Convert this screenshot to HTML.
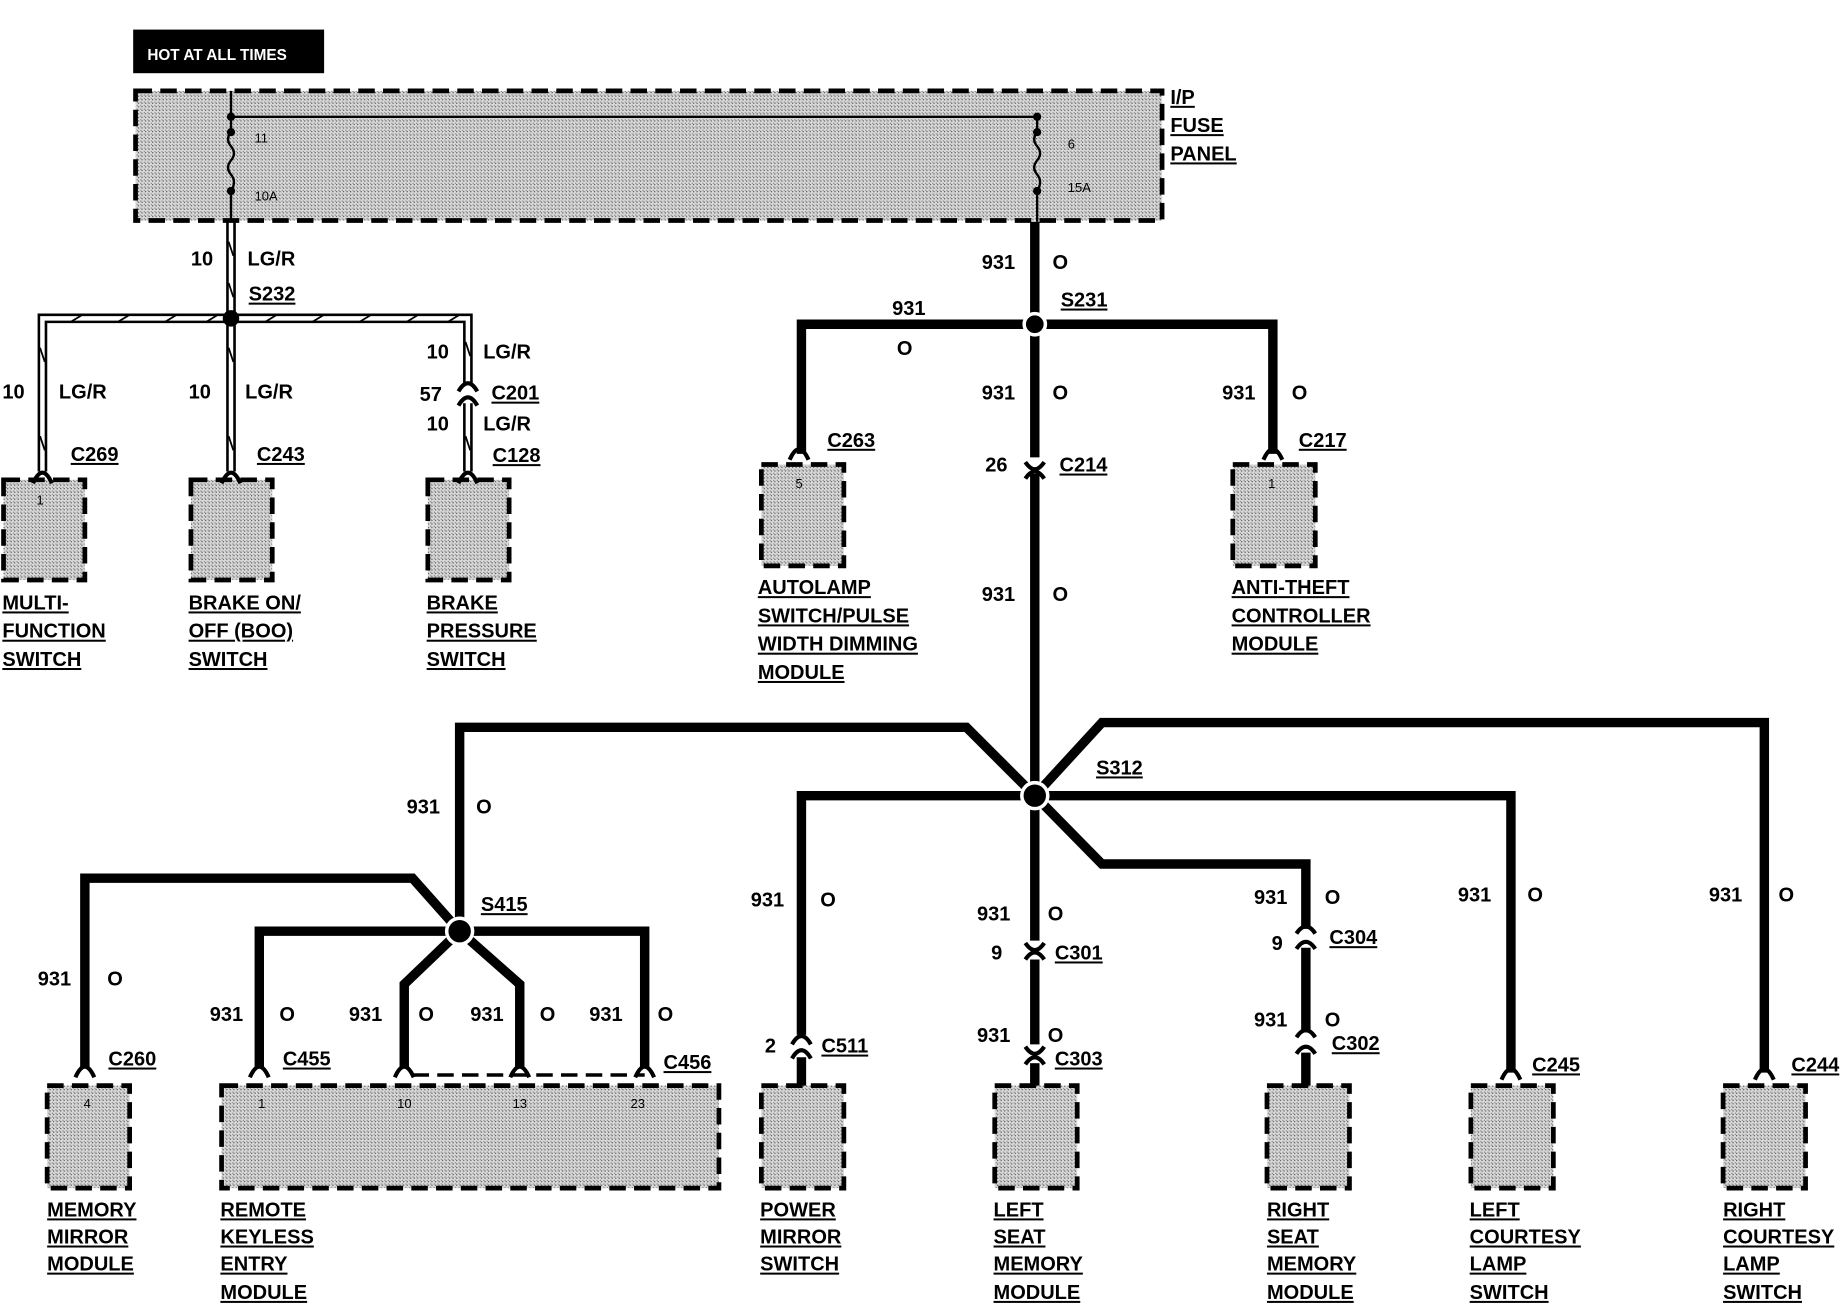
<!DOCTYPE html>
<html><head><meta charset="utf-8"><style>
html,body{margin:0;padding:0;background:#fff;}
svg{display:block;}
text{font-family:"Liberation Sans",Arial,sans-serif;font-weight:bold;font-size:17px;fill:#000;}
.s{font-size:11px;font-weight:normal;}
.u{text-decoration:underline;}
</style></head><body>
<svg width="1848" height="1312" viewBox="0 0 1568 1113" xmlns="http://www.w3.org/2000/svg">
<defs>
<pattern id="dots" width="3" height="3" patternUnits="userSpaceOnUse">
<rect width="3" height="3" fill="#d8d8d8"/><rect width="1" height="1" fill="#555"/><rect x="2" y="2" width="1" height="1" fill="#888"/>
</pattern>
</defs>
<g id="boxes" stroke="#000" stroke-width="4" stroke-dasharray="14,7" fill="url(#dots)">
<rect x="115" y="77" width="871" height="110"/>
<rect x="3" y="407" width="69" height="85"/>
<rect x="162" y="407" width="69" height="85"/>
<rect x="363" y="407" width="69" height="85"/>
<rect x="646" y="394" width="70" height="86"/>
<rect x="1046" y="394" width="70" height="86"/>
<rect x="40" y="921" width="70" height="87"/>
<rect x="188" y="921" width="422" height="87"/>
<rect x="646" y="921" width="70" height="87"/>
<rect x="844" y="921" width="70" height="87"/>
<rect x="1075" y="921" width="70" height="87"/>
<rect x="1248" y="921" width="70" height="87"/>
<rect x="1462" y="921" width="70" height="87"/>
</g>
<rect x="113" y="25" width="162" height="37" fill="#000"/>
<text x="125" y="51" style="font-size:13px;fill:#fff">HOT AT ALL TIMES</text>
<g stroke="#000" stroke-width="2" fill="none">
<path d="M196 77 V112 M196 112 q-5 6 0 12 q5 6 0 12 q-5 6 0 12 q5 6 0 14 V188"/>
<path d="M196 99 H880 V112 M880 112 q-5 6 0 12 q5 6 0 12 q-5 6 0 12 q5 6 0 14 V188"/>
</g>
<g fill="#000"><circle cx="196" cy="99" r="3.5"/><circle cx="196" cy="112" r="3.5"/><circle cx="196" cy="162" r="3.5"/>
<circle cx="880" cy="99" r="3.5"/><circle cx="880" cy="112" r="3.5"/><circle cx="880" cy="162" r="3.5"/></g>
<text class="s" x="216" y="121">11</text><text class="s" x="216" y="170">10A</text>
<text class="s" x="906" y="126">6</text><text class="s" x="906" y="163">15A</text>
<text x="993" y="88" class="u">I/P</text><text x="993" y="112" class="u">FUSE</text><text x="993" y="136" class="u">PANEL</text>
<g stroke="#000" stroke-width="2.2" fill="none">
<path d="M193 188 V400 M199 188 V400"/>
<path d="M33 400 V267 H193 M39 400 V273 H193 M199 267 H400 V325 M199 273 H394 V325"/>
<path d="M394 342 V400 M400 342 V400"/>
</g>
<g stroke="#000" stroke-width="1.5" fill="none">
<path d="M194 205 l4 12 M194 240 l4 12 M194 295 l4 12 M194 370 l4 12 M34 295 l4 12 M34 370 l4 12 M395 290 l4 12 M395 370 l4 12"/>
<path d="M60 273 l10 -6 M100 273 l10 -6 M140 273 l10 -6 M175 273 l10 -6 M225 273 l10 -6 M265 273 l10 -6 M305 273 l10 -6 M345 273 l10 -6 M380 273 l10 -6"/>
</g>
<circle cx="196" cy="270" r="7" fill="#000"/>
<g stroke="#000" stroke-width="8" fill="none" stroke-linejoin="miter">
<path d="M878 188 V388 M878 402 V798 M878 814 V886"/>
<path d="M680 385 V275 H1080 V385"/>
<path d="M878 675 L820 617 H390 V790"/>
<path d="M878 675 L935 613 H1497 V910"/>
<path d="M878 675 H680 V878 M680 897 V921"/>
<path d="M878 675 H1282 V910"/>
<path d="M878 675 L935 733 H1108 V788 M1108 804 V876 M1108 893 V921"/>
<path d="M878 902 V921"/>
<path d="M390 790 L350 745 H72 V905"/>
<path d="M390 790 H220 V905 M390 790 H547 V905"/>
<path d="M390 790 L343 835 V905 M390 790 L441 835 V905"/>
</g>
<circle cx="878" cy="275" r="9" fill="#000" stroke="#fff" stroke-width="3"/>
<circle cx="878" cy="675" r="11" fill="#000" stroke="#fff" stroke-width="3"/>
<circle cx="390" cy="790" r="11" fill="#000" stroke="#fff" stroke-width="3"/>
<path d="M350 912 H547" stroke="#000" stroke-width="3" stroke-dasharray="14,7"/>
<g stroke="#000" stroke-width="3.5" fill="none">
<path d="M28 410 Q36 392 44 410 M188 410 Q196 392 204 410 M389 410 Q397 392 405 410"/>
<path d="M389 332 Q397 318 405 332 M389 344 Q397 330 405 344"/>
<path d="M670 390 Q678 372 686 390 M1072 390 Q1080 372 1088 390"/>
<path d="M870 392 Q878 404 886 392 M870 406 Q878 394 886 406"/>
<path d="M64 914 Q72 896 80 914 M212 914 Q220 896 228 914 M335 914 Q343 896 351 914 M433 914 Q441 896 449 914 M539 914 Q547 896 555 914"/>
<path d="M672 886 Q680 872 688 886 M672 898 Q680 884 688 898"/>
<path d="M870 800 Q878 812 886 800 M870 814 Q878 802 886 814"/>
<path d="M870 888 Q878 900 886 888 M870 903 Q878 891 886 903"/>
<path d="M1100 792 Q1108 780 1116 792 M1100 805 Q1108 793 1116 805"/>
<path d="M1100 880 Q1108 868 1116 880 M1100 894 Q1108 882 1116 894"/>
<path d="M1274 916 Q1282 898 1290 916 M1489 916 Q1497 898 1505 916"/>
</g>
<text x="162" y="225">10</text><text x="210" y="225">LG/R</text><text x="211" y="255" class="u">S232</text>
<text x="2" y="338">10</text><text x="50" y="338">LG/R</text>
<text x="160" y="338">10</text><text x="208" y="338">LG/R</text>
<text x="362" y="304">10</text><text x="410" y="304">LG/R</text>
<text x="356" y="340">57</text><text x="417" y="339" class="u">C201</text>
<text x="362" y="365">10</text><text x="410" y="365">LG/R</text>
<text x="60" y="391" class="u">C269</text><text x="218" y="391" class="u">C243</text><text x="418" y="392" class="u">C128</text>
<text class="s" x="31" y="428">1</text>
<text x="2" y="517" class="u">MULTI-</text><text x="2" y="541" class="u">FUNCTION</text><text x="2" y="565" class="u">SWITCH</text>
<text x="160" y="517" class="u">BRAKE ON/</text><text x="160" y="541" class="u">OFF (BOO)</text><text x="160" y="565" class="u">SWITCH</text>
<text x="362" y="517" class="u">BRAKE</text><text x="362" y="541" class="u">PRESSURE</text><text x="362" y="565" class="u">SWITCH</text>
<text x="833" y="228">931</text><text x="893" y="228">O</text>
<text x="900" y="260" class="u">S231</text>
<text x="757" y="267">931</text><text x="761" y="301">O</text>
<text x="833" y="339">931</text><text x="893" y="339">O</text>
<text x="1037" y="339">931</text><text x="1096" y="339">O</text>
<text x="836" y="400">26</text><text x="899" y="400" class="u">C214</text>
<text x="702" y="379" class="u">C263</text><text x="1102" y="379" class="u">C217</text>
<text class="s" x="675" y="414">5</text><text class="s" x="1076" y="414">1</text>
<text x="833" y="510">931</text><text x="893" y="510">O</text>
<text x="643" y="504" class="u">AUTOLAMP</text><text x="643" y="528" class="u">SWITCH/PULSE</text><text x="643" y="552" class="u">WIDTH DIMMING</text><text x="643" y="576" class="u">MODULE</text>
<text x="1045" y="504" class="u">ANTI-THEFT</text><text x="1045" y="528" class="u">CONTROLLER</text><text x="1045" y="552" class="u">MODULE</text>
<text x="930" y="657" class="u">S312</text>
<text x="345" y="690">931</text><text x="404" y="690">O</text>
<text x="408" y="773" class="u">S415</text>
<text x="637" y="769">931</text><text x="696" y="769">O</text>
<text x="829" y="781">931</text><text x="889" y="781">O</text>
<text x="841" y="814">9</text><text x="895" y="814" class="u">C301</text>
<text x="829" y="884">931</text><text x="889" y="884">O</text>
<text x="895" y="904" class="u">C303</text>
<text x="1064" y="767">931</text><text x="1124" y="767">O</text>
<text x="1079" y="806">9</text><text x="1128" y="801" class="u">C304</text>
<text x="1064" y="871">931</text><text x="1124" y="871">O</text>
<text x="1130" y="891" class="u">C302</text>
<text x="1237" y="765">931</text><text x="1296" y="765">O</text>
<text x="1450" y="765">931</text><text x="1509" y="765">O</text>
<text x="649" y="893">2</text><text x="697" y="893" class="u">C511</text>
<text x="1300" y="909" class="u">C245</text><text x="1520" y="909" class="u">C244</text>
<text x="32" y="836">931</text><text x="91" y="836">O</text>
<text x="178" y="866">931</text><text x="237" y="866">O</text>
<text x="296" y="866">931</text><text x="355" y="866">O</text>
<text x="399" y="866">931</text><text x="458" y="866">O</text>
<text x="500" y="866">931</text><text x="558" y="866">O</text>
<text x="92" y="904" class="u">C260</text><text x="240" y="904" class="u">C455</text><text x="563" y="907" class="u">C456</text>
<text class="s" x="71" y="940">4</text><text class="s" x="219" y="940">1</text><text class="s" x="337" y="940">10</text><text class="s" x="435" y="940">13</text><text class="s" x="535" y="940">23</text>
<text x="40" y="1032" class="u">MEMORY</text><text x="40" y="1055" class="u">MIRROR</text><text x="40" y="1078" class="u">MODULE</text>
<text x="187" y="1032" class="u">REMOTE</text><text x="187" y="1055" class="u">KEYLESS</text><text x="187" y="1078" class="u">ENTRY</text><text x="187" y="1102" class="u">MODULE</text>
<text x="645" y="1032" class="u">POWER</text><text x="645" y="1055" class="u">MIRROR</text><text x="645" y="1078" class="u">SWITCH</text>
<text x="843" y="1032" class="u">LEFT</text><text x="843" y="1055" class="u">SEAT</text><text x="843" y="1078" class="u">MEMORY</text><text x="843" y="1102" class="u">MODULE</text>
<text x="1075" y="1032" class="u">RIGHT</text><text x="1075" y="1055" class="u">SEAT</text><text x="1075" y="1078" class="u">MEMORY</text><text x="1075" y="1102" class="u">MODULE</text>
<text x="1247" y="1032" class="u">LEFT</text><text x="1247" y="1055" class="u">COURTESY</text><text x="1247" y="1078" class="u">LAMP</text><text x="1247" y="1102" class="u">SWITCH</text>
<text x="1462" y="1032" class="u">RIGHT</text><text x="1462" y="1055" class="u">COURTESY</text><text x="1462" y="1078" class="u">LAMP</text><text x="1462" y="1102" class="u">SWITCH</text>
</svg>
</body></html>
